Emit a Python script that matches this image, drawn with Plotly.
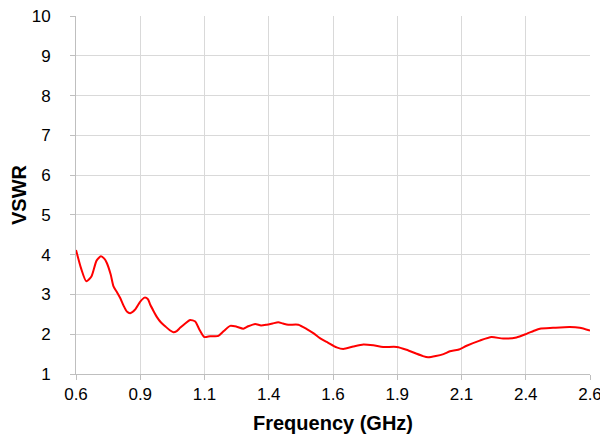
import plotly.graph_objects as go

freq_ghz = [0.600, 0.620, 0.640, 0.660, 0.680, 0.697, 0.710, 0.720, 0.735, 0.746,
            0.760, 0.772, 0.785, 0.798, 0.811, 0.830, 0.850, 0.867, 0.880, 0.889,
            0.902, 0.915, 0.930, 0.947, 0.965, 0.979, 0.992, 1.005, 1.025, 1.044,
            1.064, 1.080, 1.099, 1.122, 1.154, 1.175, 1.200, 1.225, 1.251, 1.270,
            1.297, 1.320, 1.342, 1.365, 1.387, 1.405, 1.426, 1.465, 1.498, 1.525,
            1.549, 1.580, 1.614, 1.640, 1.679, 1.718, 1.757, 1.795, 1.848, 1.886,
            1.925, 1.950, 1.970, 2.000, 2.030, 2.055, 2.087, 2.120, 2.171, 2.217,
            2.262, 2.314, 2.353, 2.380, 2.405, 2.456, 2.521, 2.560, 2.600]
vswr = [4.12, 3.65, 3.33, 3.45, 3.85, 3.96, 3.90, 3.79, 3.50, 3.20,
        3.05, 2.91, 2.72, 2.57, 2.53, 2.62, 2.82, 2.92, 2.88, 2.74,
        2.58, 2.43, 2.30, 2.20, 2.10, 2.05, 2.08, 2.16, 2.27, 2.36,
        2.32, 2.12, 1.93, 1.95, 1.96, 2.08, 2.21, 2.19, 2.14, 2.20,
        2.26, 2.22, 2.24, 2.27, 2.30, 2.27, 2.24, 2.24, 2.13, 2.02,
        1.90, 1.79, 1.67, 1.63, 1.69, 1.74, 1.72, 1.68, 1.68, 1.61,
        1.51, 1.45, 1.42, 1.45, 1.50, 1.57, 1.61, 1.71, 1.84, 1.93,
        1.89, 1.92, 2.01, 2.08, 2.14, 2.16, 2.18, 2.16, 2.09]

x_tickvals = [0.6, 0.85, 1.1, 1.35, 1.6, 1.85, 2.1, 2.35, 2.6]
x_ticktext = ["0.6", "0.9", "1.1", "1.4", "1.6", "1.9", "2.1", "2.4", "2.6"]
y_tickvals = [1, 2, 3, 4, 5, 6, 7, 8, 9, 10]

fig = go.Figure()
fig.add_trace(go.Scatter(x=freq_ghz, y=vswr, mode="lines",
                         line=dict(color="#ff0000", width=2, shape="spline", smoothing=0.6),
                         showlegend=False))

font_family = "Liberation Sans, Arial, sans-serif"
fig.update_layout(
    width=600, height=429,
    margin=dict(l=68, r=18, t=8, b=63, autoexpand=False),
    paper_bgcolor="white", plot_bgcolor="white",
    font=dict(family=font_family, size=17, color="#000000"),
    xaxis=dict(
        range=[0.6, 2.6], tickvals=x_tickvals, ticktext=x_ticktext,
        showgrid=True, gridcolor="#d9d9d9", gridwidth=1,
        showline=True, linecolor="#bfbfbf", linewidth=1,
        ticks="outside", ticklen=5, tickcolor="#bfbfbf",
        ticklabeloverflow="allow",
        zeroline=False, automargin=False,
        title=dict(text="<b>Frequency (GHz)</b>", font=dict(size=20), standoff=12),
    ),
    yaxis=dict(
        range=[1, 10], tickvals=y_tickvals,
        showgrid=True, gridcolor="#d9d9d9", gridwidth=1,
        showline=True, linecolor="#bfbfbf", linewidth=1,
        ticks="outside", ticklen=5, tickcolor="#bfbfbf",
        ticklabelstandoff=16, ticklabeloverflow="allow",
        zeroline=False, automargin=False,
        title=dict(text="<b>VSWR</b>", font=dict(size=20), standoff=2),
    ),
)

fig.write_html("out.html")
